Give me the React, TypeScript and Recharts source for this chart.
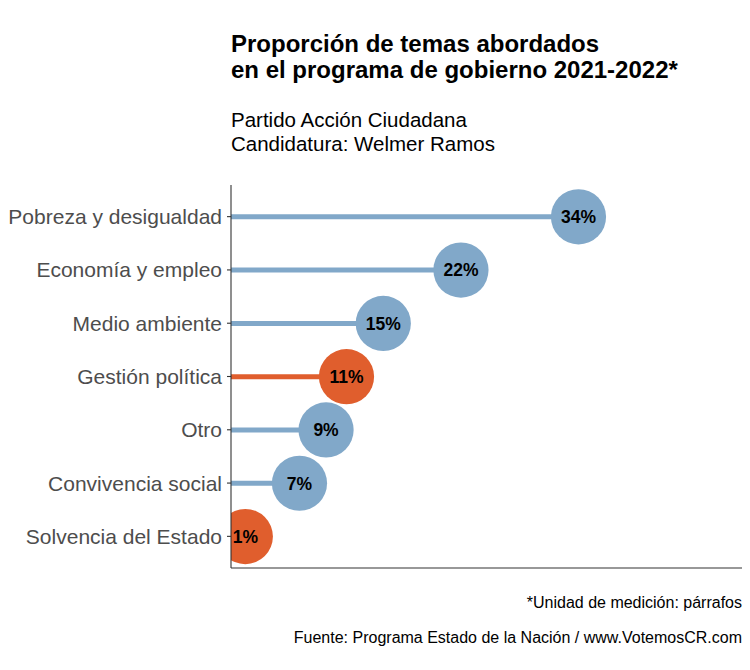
import React from 'react';
import { ComposedChart, Bar, XAxis, YAxis } from 'recharts';

const temas = [
  'Pobreza y desigualdad',
  'Economía y empleo',
  'Medio ambiente',
  'Gestión política',
  'Otro',
  'Convivencia social',
  'Solvencia del Estado',
];
const proporcion = [34.0, 22.5, 14.9, 11.3, 9.3, 6.7, 1.4];
const etiquetas = ['34%', '22%', '15%', '11%', '9%', '7%', '1%'];
const destacado = [false, false, false, true, false, false, true];

const AZUL = '#81a8c9';
const NARANJA = '#e05e2d';
const FONT = '"Liberation Sans", Arial, Helvetica, sans-serif';

const data = temas.map((tema, i) => ({
  tema,
  valor: proporcion[i],
  etiqueta: etiquetas[i],
  destacado: destacado[i],
}));

const Lollipop = (props: any) => {
  const { x, y, width, height, payload, index } = props;
  const cy = y + height / 2;
  const cx = x + width;
  const color = payload.destacado ? NARANJA : AZUL;
  const clipId = `clip-lolli-${index}`;
  return (
    <g>
      <defs>
        <clipPath id={clipId}>
          <rect x={x} y={cy - 40} width={1000} height={80} />
        </clipPath>
      </defs>
      <g clipPath={`url(#${clipId})`}>
        <line x1={x} y1={cy} x2={cx} y2={cy} stroke={color} strokeWidth={5} />
        <circle cx={cx} cy={cy} r={27.6} fill={color} />
      </g>
      <text
        x={cx}
        y={cy}
        dy="0.36em"
        textAnchor="middle"
        fontFamily={FONT}
        fontWeight="bold"
        fontSize={17.5}
        fill="#000"
      >
        {payload.etiqueta}
      </text>
    </g>
  );
};

export default function App() {
  return (
    <div style={{ position: 'absolute', left: 0, top: 0, width: 750, height: 670, background: '#fff' }}>
      <ComposedChart
        width={750}
        height={670}
        data={data}
        layout="vertical"
        margin={{ top: 185, right: 8, bottom: 101, left: 0 }}
      >
        <XAxis
          type="number"
          domain={[0, 50]}
          tick={false}
          tickLine={false}
          height={1}
          axisLine={{ stroke: '#333333', strokeWidth: 1.1 }}
        />
        <YAxis
          type="category"
          dataKey="tema"
          width={231}
          padding={{ top: 5, bottom: 5 }}
          tickSize={4}
          tickMargin={5}
          tickLine={{ stroke: '#333333', strokeWidth: 1.1 }}
          axisLine={{ stroke: '#333333', strokeWidth: 1.1 }}
          tick={{ fill: '#4d4d4d', fontSize: 21, fontFamily: FONT }}
          interval={0}
        />
        <Bar dataKey="valor" shape={<Lollipop />} isAnimationActive={false} />
      </ComposedChart>
      <svg
        width={750}
        height={670}
        style={{ position: 'absolute', left: 0, top: 0, pointerEvents: 'none' }}
      >
        <g fontFamily={FONT}>
          <text x={231} y={52} fontSize={24} fontWeight="bold" fill="#000">
            Proporción de temas abordados
          </text>
          <text x={231} y={78} fontSize={24} fontWeight="bold" fill="#000">
            en el programa de gobierno 2021-2022*
          </text>
          <text x={231} y={127} fontSize={20.5} fill="#000">
            Partido Acción Ciudadana
          </text>
          <text x={231} y={151} fontSize={20.5} fill="#000">
            Candidatura: Welmer Ramos
          </text>
          <text x={742} y={608} fontSize={16} textAnchor="end" fill="#000">
            *Unidad de medición: párrafos
          </text>
          <text x={742} y={643} fontSize={16} textAnchor="end" fill="#000">
            Fuente: Programa Estado de la Nación / www.VotemosCR.com
          </text>
        </g>
      </svg>
    </div>
  );
}
